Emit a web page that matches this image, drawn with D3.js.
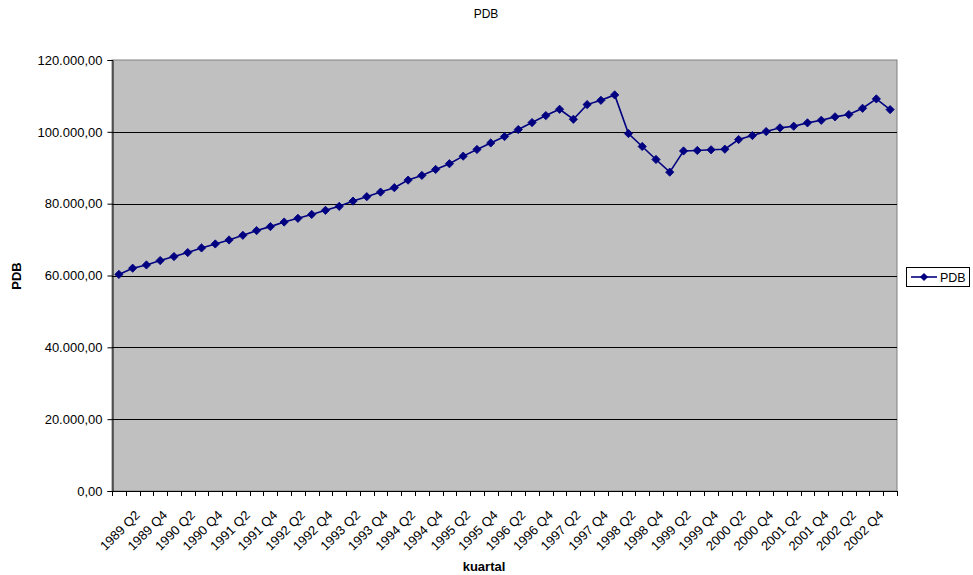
<!DOCTYPE html>
<html>
<head>
<meta charset="utf-8">
<script src="https://cdn.jsdelivr.net/npm/d3@7/dist/d3.min.js"></script>
<style>
  html, body { margin: 0; padding: 0; background: #ffffff; }
  svg { display: block; font-family: "Liberation Sans", Arial, sans-serif; }
</style>
</head>
<body>
<svg id="chart" width="973" height="575"></svg>
<script>
// Quarterly GDP (PDB) series
const quarters = [
  "1989 Q1","1989 Q2","1989 Q3","1989 Q4",
  "1990 Q1","1990 Q2","1990 Q3","1990 Q4",
  "1991 Q1","1991 Q2","1991 Q3","1991 Q4",
  "1992 Q1","1992 Q2","1992 Q3","1992 Q4",
  "1993 Q1","1993 Q2","1993 Q3","1993 Q4",
  "1994 Q1","1994 Q2","1994 Q3","1994 Q4",
  "1995 Q1","1995 Q2","1995 Q3","1995 Q4",
  "1996 Q1","1996 Q2","1996 Q3","1996 Q4",
  "1997 Q1","1997 Q2","1997 Q3","1997 Q4",
  "1998 Q1","1998 Q2","1998 Q3","1998 Q4",
  "1999 Q1","1999 Q2","1999 Q3","1999 Q4",
  "2000 Q1","2000 Q2","2000 Q3","2000 Q4",
  "2001 Q1","2001 Q2","2001 Q3","2001 Q4",
  "2002 Q1","2002 Q2","2002 Q3","2002 Q4",
  "2003 Q1"
];

const pdb = [
  60300, 62030, 62940, 64170,
  65280, 66390, 67670, 68780,
  69890, 71200, 72500, 73610,
  74890, 75920, 77000, 78140,
  79250, 80720, 81950, 83220,
  84450, 86560, 87870, 89530,
  91120, 93230, 95090, 96900,
  98690, 100640, 102580, 104530,
  106280, 103500, 107580, 108780,
  110280, 99530, 95920, 92300,
  88780, 94670, 94810, 95000,
  95170, 97860, 98970, 100080,
  101110, 101560, 102500, 103220,
  104170, 104810, 106560, 109170,
  106190
];

// Labels shown on the category axis (every second quarter)
const xTickLabels = quarters.filter((q, i) => i % 2 === 1);
const yTicks = [0, 20000, 40000, 60000, 80000, 100000, 120000];

const chartTitle = "PDB";
const xTitle = "kuartal";
const yTitle = "PDB";
const seriesName = "PDB";

const svg = d3.select("#chart");
const plot = { left: 112, right: 897, top: 60, bottom: 491 };

const x = d3.scaleBand().domain(quarters).range([plot.left, plot.right]).paddingInner(0).paddingOuter(0);
const y = d3.scaleLinear().domain([0, 120000]).range([plot.bottom, plot.top]);
const cx = q => x(q) + x.bandwidth() / 2;

const fmt = v => {
  const s = d3.format(",.2f")(v);
  return s.replace(/,/g, "#").replace(/\./g, ",").replace(/#/g, ".");
};

// Plot background
svg.append("rect")
  .attr("x", plot.left).attr("y", plot.top)
  .attr("width", plot.right - plot.left).attr("height", plot.bottom - plot.top)
  .attr("fill", "#c0c0c0").attr("stroke", "#808080").attr("stroke-width", 1);

// Horizontal gridlines
svg.append("g").selectAll("line")
  .data(yTicks.filter(t => t > 0 && t < 120000))
  .join("line")
  .attr("x1", plot.left).attr("x2", plot.right)
  .attr("y1", d => Math.round(y(d)) + 0.5).attr("y2", d => Math.round(y(d)) + 0.5)
  .attr("stroke", "#000").attr("stroke-width", 1);

// Y axis
const yAxis = svg.append("g")
  .attr("transform", `translate(${plot.left + 0.5},0)`)
  .call(d3.axisLeft(y).tickValues(yTicks).tickSize(5).tickPadding(5).tickFormat(fmt));
yAxis.select(".domain").attr("stroke", "#000");
yAxis.selectAll(".tick line").attr("stroke", "#000");
yAxis.selectAll(".tick text")
  .attr("font-size", 13).attr("fill", "#000")
  .attr("font-family", "Liberation Sans, Arial, sans-serif");

// X axis line with tick marks on category boundaries
const xg = svg.append("g");
xg.append("line")
  .attr("x1", plot.left).attr("x2", plot.right)
  .attr("y1", plot.bottom + 0.5).attr("y2", plot.bottom + 0.5)
  .attr("stroke", "#000");
const boundaries = quarters.map(q => x(q)).concat([x(quarters[quarters.length - 1]) + x.bandwidth()]);
xg.selectAll("line.tick")
  .data(boundaries)
  .join("line").attr("class", "tick")
  .attr("x1", d => Math.round(d) + 0.5).attr("x2", d => Math.round(d) + 0.5)
  .attr("y1", plot.bottom).attr("y2", plot.bottom + 5)
  .attr("stroke", "#000");

xg.selectAll("text.lbl")
  .data(xTickLabels)
  .join("text").attr("class", "lbl")
  .attr("transform", d => `translate(${cx(d) + 8},${516}) rotate(-45)`)
  .attr("text-anchor", "end")
  .attr("font-size", 13)
  .attr("fill", "#000")
  .text(d => d);

// Series line
svg.append("path")
  .datum(pdb)
  .attr("fill", "none")
  .attr("stroke", "#000080")
  .attr("stroke-width", 1.6)
  .attr("d", d3.line().x((d, i) => cx(quarters[i])).y(d => y(d)));

// Diamond markers
const diamond = d3.symbol().type(d3.symbolSquare).size(34);
svg.append("g").selectAll("path")
  .data(pdb)
  .join("path")
  .attr("d", diamond)
  .attr("transform", (d, i) => `translate(${cx(quarters[i])},${y(d)}) rotate(45)`)
  .attr("fill", "#000080")
  .attr("stroke", "#000080")
  .attr("stroke-width", 0.8);

// Titles
svg.append("text")
  .attr("x", 486).attr("y", 18)
  .attr("text-anchor", "middle").attr("font-size", 12)
  .text(chartTitle);

svg.append("text")
  .attr("transform", "translate(21,276) rotate(-90)")
  .attr("text-anchor", "middle").attr("font-size", 13).attr("font-weight", "bold")
  .text(yTitle);

svg.append("text")
  .attr("x", 484).attr("y", 571)
  .attr("text-anchor", "middle").attr("font-size", 13).attr("font-weight", "bold")
  .text(xTitle);

// Legend
const lg = svg.append("g");
lg.append("rect")
  .attr("x", 906.5).attr("y", 267.5).attr("width", 63).attr("height", 19)
  .attr("fill", "#fff").attr("stroke", "#000");
lg.append("line")
  .attr("x1", 911).attr("x2", 937).attr("y1", 277).attr("y2", 277)
  .attr("stroke", "#000080").attr("stroke-width", 1.6);
lg.append("path")
  .attr("d", diamond)
  .attr("transform", "translate(924,277) rotate(45)")
  .attr("fill", "#000080");
lg.append("text")
  .attr("x", 940).attr("y", 281.5)
  .attr("font-size", 12.5)
  .text(seriesName);
</script>
</body>
</html>
